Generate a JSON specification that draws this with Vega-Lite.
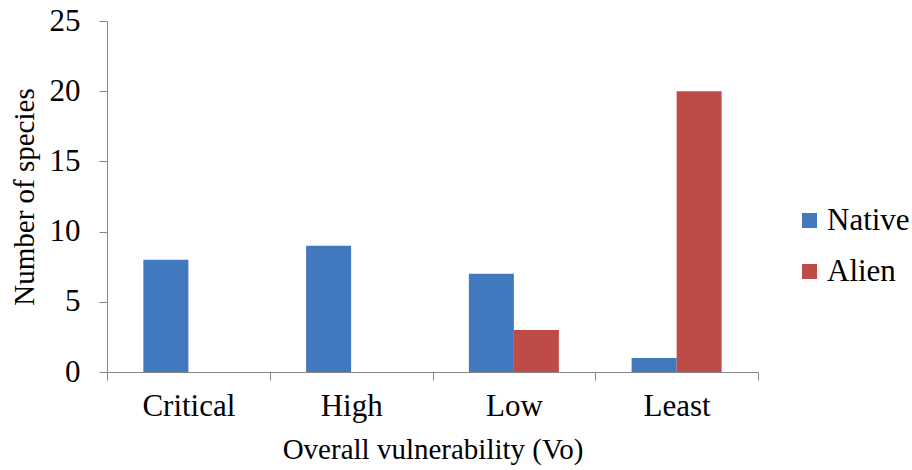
{
  "$schema": "https://vega.github.io/schema/vega-lite/v6.json",
  "width": 651,
  "height": 351,
  "autosize": {"type": "none"},
  "padding": {"left": 107, "top": 21, "right": 154, "bottom": 98},
  "background": "white",
  "data": {
    "values": [
      {"category": "Critical", "group": "Native", "count": 8},
      {"category": "Critical", "group": "Alien", "count": 0},
      {"category": "High", "group": "Native", "count": 9},
      {"category": "High", "group": "Alien", "count": 0},
      {"category": "Low", "group": "Native", "count": 7},
      {"category": "Low", "group": "Alien", "count": 3},
      {"category": "Least", "group": "Native", "count": 1},
      {"category": "Least", "group": "Alien", "count": 20}
    ]
  },
  "mark": {"type": "bar"},
  "encoding": {
    "x": {
      "field": "category",
      "type": "nominal",
      "sort": ["Critical", "High", "Low", "Least"],
      "scale": {"paddingInner": 0, "paddingOuter": 0},
      "axis": {
        "title": "Overall vulnerability (Vo)",
        "labelAngle": 0,
        "tickBand": "extent",
        "labelFontSize": 31,
        "labelPadding": 11,
        "titleFontSize": 29,
        "titlePadding": 14,
        "titleFontWeight": "normal",
        "labelFont": "Liberation Serif",
        "titleFont": "Liberation Serif"
      }
    },
    "xOffset": {
      "field": "group",
      "type": "nominal",
      "sort": ["Native", "Alien"],
      "scale": {"paddingInner": 0, "paddingOuter": 0.808}
    },
    "y": {
      "field": "count",
      "type": "quantitative",
      "scale": {"domain": [0, 25]},
      "axis": {
        "title": "Number of species",
        "values": [0, 5, 10, 15, 20, 25],
        "grid": false,
        "labelFontSize": 31,
        "labelPadding": 19,
        "titleFontSize": 29,
        "titlePadding": 10,
        "titleFontWeight": "normal",
        "labelFont": "Liberation Serif",
        "titleFont": "Liberation Serif"
      }
    },
    "color": {
      "field": "group",
      "type": "nominal",
      "sort": ["Native", "Alien"],
      "scale": {"domain": ["Native", "Alien"], "range": ["#4178BE", "#BE4B48"]},
      "legend": {
        "title": null,
        "orient": "none",
        "legendX": 687,
        "legendY": 184,
        "symbolType": "square",
        "symbolSize": 225,
        "symbolStrokeWidth": 0,
        "labelFontSize": 31,
        "labelFont": "Liberation Serif",
        "labelOffset": 2,
        "rowPadding": 19,
        "labelColor": "black",
        "labelLimit": 200
      }
    }
  },
  "config": {
    "font": "Liberation Serif",
    "view": {"stroke": null},
    "axis": {
      "domainColor": "#868686",
      "tickColor": "#868686",
      "tickSize": 8,
      "labelColor": "black",
      "titleColor": "black"
    }
  }
}
